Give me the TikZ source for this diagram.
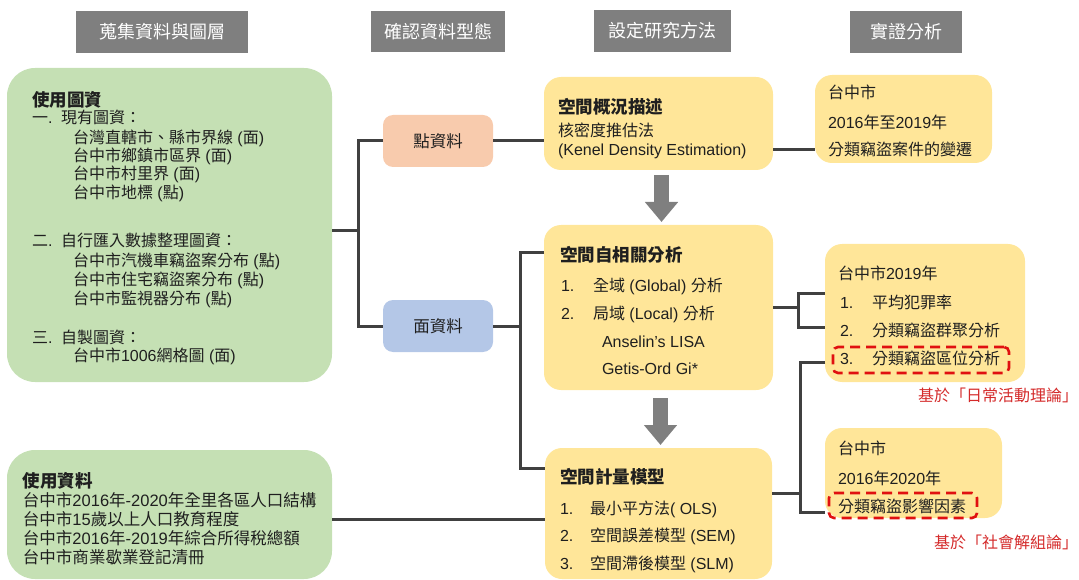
\documentclass[tikz,border=0pt]{standalone}
\usepackage{fontspec}
\usetikzlibrary{arrows.meta,fit}
\setmainfont{Noto Sans CJK TC}
\newfontfamily\cjk{Noto Sans CJK TC}
\newfontfamily\lat{Liberation Sans}
\newcommand\ltn[1]{{\lat #1}}
\definecolor{hdrgray}{HTML}{7F7F7F}
\definecolor{gfill}{HTML}{C5E0B4}
\definecolor{pfill}{HTML}{F8CBAD}
\definecolor{afill}{HTML}{B4C7E7}
\definecolor{yfill}{HTML}{FFE699}
\definecolor{lineg}{HTML}{404040}
\definecolor{dred}{HTML}{E01010}
\definecolor{tred}{HTML}{D42A2A}
\definecolor{txtc}{HTML}{1F1F1F}
\begin{document}
\begin{tikzpicture}[x=1pt,y=-1pt,
  every node/.style={inner sep=0pt,outer sep=0pt},
  hdr/.style={fill=hdrgray},
  hdrtxt/.style={text=white,font=\fontsize{18}{20}\selectfont,text height=15.8pt,text depth=2.2pt},
  gbox/.style={fill=gfill,rounded corners=28pt},
  sbox/.style={rounded corners=10pt},
  stxt/.style={text=txtc,font=\fontsize{16.5}{18}\selectfont,text height=14.5pt,text depth=2pt},
  ybox/.style={fill=yfill,rounded corners=17pt},
  tx/.style={anchor=west,text=txtc,font=\fontsize{16}{19}\selectfont,text height=13pt,text depth=1pt},
  tk/.style={tx,font=\fontsize{16.5}{19}\selectfont},
  bt/.style={tx,font=\bfseries\fontsize{17.5}{20}\selectfont,text height=14pt,text depth=1pt},
  conn/.style={draw=lineg,line width=3pt},
  bigarr/.style={draw=hdrgray,line width=15pt,-{Triangle[length=20pt,width=32pt]}},
  dbox/.style={draw=dred,line width=2.6pt,dash pattern=on 10pt off 6pt,rounded corners=5pt}]
\useasboundingbox (0,0) rectangle (1079,580);

% headers
\node[hdr,fit={(76,11)(248,53)}] (h1) {};
\node[hdr,fit={(371,11)(505,52)}] (h2) {};
\node[hdr,fit={(594,10)(731,52)}] (h3) {};
\node[hdr,fit={(850,11)(962,53)}] (h4) {};
\node[hdrtxt] (h1t) at (h1.center) {蒐集資料與圖層};
\node[hdrtxt] (h2t) at (h2.center) {確認資料型態};
\node[hdrtxt] (h3t) at (h3.center) {設定研究方法};
\node[hdrtxt] (h4t) at (h4.center) {實證分析};

% boxes
\node[gbox,fit={(7,68)(332,382)}] (g1) {};
\node[gbox,fit={(7,450)(332,579)}] (g2) {};
\node[sbox,fill=pfill,fit={(383,115)(493,167)}] (p) {};
\node[sbox,fill=afill,fit={(383,300)(493,352)}] (a) {};
\node[stxt] (pt) at (p.center) {點資料};
\node[stxt] (at) at (a.center) {面資料};
\node[ybox,fit={(544,77)(773,170)}] (m1) {};
\node[ybox,fit={(544,225)(773,390)}] (m2) {};
\node[ybox,fit={(545,448)(772,579)}] (m3) {};
\node[ybox,fit={(815,75)(992,163)}] (r1) {};
\node[ybox,fit={(825,244)(1025,382)}] (r2) {};
\node[ybox,fit={(825,428)(1002,518)}] (r3) {};

% left box text
\node[bt] (ga) at (32,100) {使用圖資};
\node[tx] (gb) at (32,118) {\makebox[29pt][l]{一\ltn{.}}現有圖資：};
\node[tx] (gc) at (73,138) {台灣直轄市、縣市界線\ltn{ (}面\ltn{)}};
\node[tx] (gd) at (73,156) {台中市鄉鎮市區界\ltn{ (}面\ltn{)}};
\node[tx] (ge) at (73,174) {台中市村里界\ltn{ (}面\ltn{)}};
\node[tx] (gf) at (73,193) {台中市地標\ltn{ (}點\ltn{)}};
\node[tx] (gg) at (32,241) {\makebox[29pt][l]{二\ltn{.}}自行匯入數據整理圖資：};
\node[tx] (gh) at (73,260) {台中市汽機車竊盜案分布\ltn{ (}點\ltn{)}};
\node[tx] (gi) at (73,279) {台中市住宅竊盜案分布\ltn{ (}點\ltn{)}};
\node[tx] (gj) at (73,298) {台中市監視器分布\ltn{ (}點\ltn{)}};
\node[tx] (gk) at (32,337) {\makebox[29pt][l]{三\ltn{.}}自製圖資：};
\node[tx] (gl) at (73,355) {台中市\ltn{1006}網格圖\ltn{ (}面\ltn{)}};

\node[bt] (ka) at (23,481) {使用資料};
\node[tk] (kb) at (23,500) {台中市\ltn{2016}年\ltn{-2020}年全里各區人口結構};
\node[tk] (kc) at (23,519) {台中市\ltn{15}歲以上人口教育程度};
\node[tk] (kd) at (23,538) {台中市\ltn{2016}年\ltn{-2019}年綜合所得稅總額};
\node[tk] (ke) at (23,557) {台中市商業歇業登記清冊};

% method boxes text
\node[bt] (ma) at (558,107) {空間概況描述};
\node[tx] (mb) at (558,131) {核密度推估法};
\node[tx] (mc) at (558,150) {\ltn{(Kenel Density Estimation)}};

\node[bt] (na) at (560,255) {空間自相關分析};
\node[tx] (nb) at (561,285) {\makebox[32pt][l]{\ltn{1.}}全域\ltn{ (Global) }分析};
\node[tx] (nc) at (561,313) {\makebox[32pt][l]{\ltn{2.}}局域\ltn{ (Local) }分析};
\node[tx] (nd) at (602,341) {\ltn{Anselin’s LISA}};
\node[tx] (ne) at (602,368) {\ltn{Getis-Ord Gi*}};

\node[bt] (oa) at (560,477) {空間計量模型};
\node[tx] (ob) at (560,508) {\makebox[30pt][l]{\ltn{1.}}最小平方法\ltn{( OLS)}};
\node[tx] (oc) at (560,535) {\makebox[30pt][l]{\ltn{2.}}空間誤差模型\ltn{ (SEM)}};
\node[tx] (od) at (560,563) {\makebox[30pt][l]{\ltn{3.}}空間滯後模型\ltn{ (SLM)}};

% result boxes text
\node[tx] (ra) at (828,93) {台中市};
\node[tx] (rb) at (828,123) {\ltn{2016}年至\ltn{2019}年};
\node[tx] (rc) at (828,150) {分類竊盜案件的變遷};

\node[tx] (sa) at (838,273) {台中市\ltn{2019}年};
\node[tx] (sb) at (840,302) {\makebox[32pt][l]{\ltn{1.}}平均犯罪率};
\node[tx] (sc) at (840,330) {\makebox[32pt][l]{\ltn{2.}}分類竊盜群聚分析};
\node[tx] (sd) at (840,358) {\makebox[32pt][l]{\ltn{3.}}分類竊盜區位分析};

\node[tx] (ua) at (838,448) {台中市};
\node[tx] (ub) at (838,478) {\ltn{2016}年\ltn{2020}年};
\node[tx] (uc) at (838,506) {分類竊盜影響因素};

% red highlights
\node[dbox,fit={(833,347)(1009,373)}] (d1) {};
\node[dbox,fit={(829,493)(977,518)}] (d2) {};
\node[tx,anchor=east,text=tred] (n1) at (1078,395) {基於「日常活動理論」};
\node[tx,anchor=east,text=tred] (n2) at (1078,542) {基於「社會解組論」};

% connectors
\coordinate (j1) at ([xshift=26pt,yshift=-6pt]g1.east);
\draw[conn] ([yshift=-6pt]g1.east) -- (j1);
\draw[conn] (p.west) -| (j1) |- (a.west);
\draw[conn] (p.east) -- (p.east -| m1.west);
\coordinate (j2) at ([xshift=27pt]a.east);
\draw[conn] (a.east) -- (j2);
\draw[conn] ([yshift=-28pt]m2.north west) -| (j2) |- ([yshift=-20pt]m3.north west);
\draw[conn] ([yshift=-4.5pt]g2.east) -- ([yshift=-4.5pt]g2.east -| m3.west);
\draw[conn] ([yshift=-26.5pt]m1.east) -- ([yshift=-26.5pt]m1.east -| r1.west);
\coordinate (j3) at ([xshift=25pt]m2.east);
\draw[conn] (m2.east) -- (j3);
\draw[conn] ([yshift=20pt]r2.west) -| (j3) |- ([yshift=-14pt]r2.west);
\coordinate (j4) at ([xshift=28pt,yshift=20pt]m3.east);
\draw[conn] ([yshift=20pt]m3.east) -- (j4);
\draw[conn] ([yshift=-49pt]r2.west) -| (j4) |- ([yshift=-39pt]r3.west);

% block arrows
\draw[bigarr] ([xshift=3pt,yshift=-5pt]m1.south) -- ([xshift=3pt,yshift=3pt]m2.north);
\draw[bigarr] ([xshift=2pt,yshift=-8pt]m2.south) -- ([xshift=2pt,yshift=3pt]m3.north);
\end{tikzpicture}
\end{document}
